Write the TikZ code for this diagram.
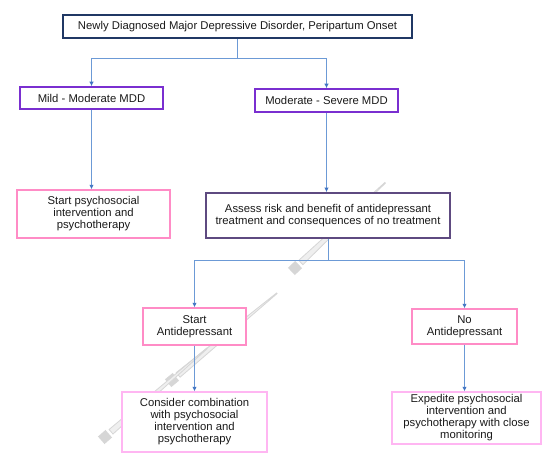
\documentclass[tikz,border=0pt]{standalone}
\usepackage{fontspec}
\setmainfont{Liberation Sans}
\usetikzlibrary{arrows.meta,positioning}
\definecolor{navy}{HTML}{203864}
\definecolor{violetb}{HTML}{7A2FD0}
\definecolor{plum}{HTML}{5E4A80}
\definecolor{pinkb}{HTML}{FF8CC6}
\definecolor{lpink}{HTML}{FFB6F2}
\definecolor{linec}{HTML}{6C9AD6}
\definecolor{arrc}{HTML}{3F73C2}
\definecolor{txt}{HTML}{1A1A1A}
\definecolor{wm}{HTML}{D6D6D6}
\tikzset{
  box/.style={draw, fill=white, inner sep=1pt, align=center, text=txt,
    font=\fontsize{11.3}{12}\selectfont},
  topbox/.style={box, draw=navy, line width=1.8pt},
  mddbox/.style={box, draw=violetb, line width=1.6pt},
  assessbox/.style={box, draw=plum, line width=1.8pt},
  pinkbox/.style={box, draw=pinkb, line width=1.4pt},
  lpinkbox/.style={box, draw=lpink, line width=1.4pt},
  conn/.style={draw=linec, line width=0.9pt, -{Latex[length=4.5pt,width=4.5pt,color=arrc]}},
  pen/.pic={
    \fill[wm] (-5,-5) rectangle (5,5);
    \filldraw[draw=wm, fill=wm!40, line width=0.8pt] (8,-3) -- (#1,-0.4) -- (#1,0.4) -- (8,3) -- cycle;
  }
}
\begin{document}
\begin{tikzpicture}[x=1pt,y=-1pt]
\useasboundingbox (0,0) rectangle (551,468);
% faint watermark pens
\pic[rotate=43.4] at (295,268) {pen=124};
\pic[rotate=39.6] at (172,380) {pen=136};
\pic[rotate=41] at (105,437) {pen=135};
% nodes
\node[topbox, minimum width=349pt, minimum height=23pt] (top) at (237.5,26.5)
  {Newly Diagnosed Major Depressive Disorder, Peripartum Onset};
\node[mddbox, minimum width=143pt, minimum height=22pt] (mild) at (91.5,98)
  {Mild - Moderate MDD};
\node[mddbox, minimum width=143pt, minimum height=23pt] (modsev) at (326.5,100.5)
  {Moderate - Severe MDD};
\node[pinkbox, minimum width=153pt, minimum height=48pt] (psych) at (93.5,214)
  {Start psychosocial\\intervention and\\psychotherapy};
\node[assessbox, minimum width=244pt, minimum height=45pt] (assess) at (328,215.5)
  {Assess risk and benefit of antidepressant\\treatment and consequences of no treatment};
\node[pinkbox, minimum width=103pt, minimum height=37pt] (startAD) at (194.5,326.5)
  {Start\\Antidepressant};
\node[pinkbox, minimum width=105pt, minimum height=35pt] (noAD) at (464.5,326.5)
  {No\\Antidepressant};
\node[lpinkbox, minimum width=145pt, minimum height=60pt] (consider) at (194.5,422)
  {Consider combination\\with psychosocial\\intervention and\\psychotherapy};
\node[lpinkbox, minimum width=149pt, minimum height=52pt] (expedite) at (466.5,418)
  {Expedite psychosocial\\intervention and\\psychotherapy with close\\monitoring};
% connectors
\draw[conn] (top.south) -- ++(0,20) -| (mild.north);
\draw[conn] (top.south) -- ++(0,20) -| (modsev.north);
\draw[conn] (mild.south) -- (mild.south |- psych.north);
\draw[conn] (modsev.south) -- (modsev.south |- assess.north);
\draw[conn] (assess.south) -- ++(0,22) -| (startAD.north);
\draw[conn] (assess.south) -- ++(0,22) -| (noAD.north);
\draw[conn] (startAD.south) -- (consider.north);
\draw[conn] (noAD.south) -- (noAD.south |- expedite.north);
\end{tikzpicture}
\end{document}
